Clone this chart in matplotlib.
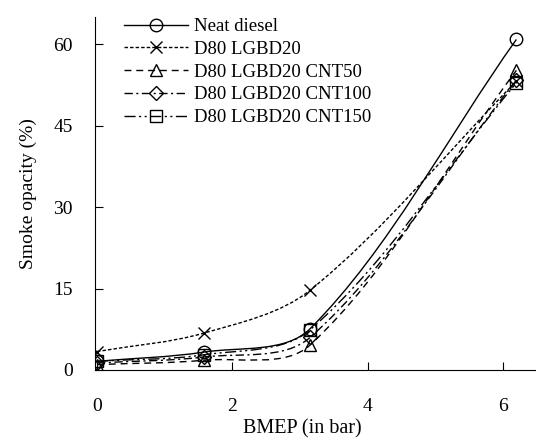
import numpy as np
import matplotlib.pyplot as plt
from matplotlib.path import Path
from matplotlib.patches import PathPatch

plt.rcParams['font.family'] = ['Liberation Serif', 'DejaVu Serif']

# BMEP (bar)
bmep = [0.0, 1.58, 3.15, 6.2]

# smoke opacity (%)
neat_diesel = [1.6, 3.3, 7.6, 60.9]
d80_lgbd20 = [3.4, 6.8, 14.7, 53.2]
cnt50 = [1.0, 1.8, 4.6, 55.2]
cnt100 = [1.3, 2.4, 6.0, 53.4]
cnt150 = [1.6, 2.8, 7.4, 52.9]

series = [
    ("Neat diesel", neat_diesel, 'o', '-'),
    ("D80 LGBD20", d80_lgbd20, 'x', (0, (2.5, 1.5))),
    ("D80 LGBD20 CNT50", cnt50, '^', (0, (5, 3.5))),
    ("D80 LGBD20 CNT100", cnt100, 'D', (0, (6, 2.5, 1.5, 2.5))),
    ("D80 LGBD20 CNT150", cnt150, 's', (0, (8, 2.5, 1.5, 2.5, 1.5, 2.5))),
]

# rough px per data unit, used only to weight the smoothing
SX, SY = 67.7, 5.43


def smooth_path(x, y, t=1/3):
    # smoothed line like the spreadsheet one: bezier segments, tangents weighted by segment length
    pts = np.column_stack([x, y]).astype(float)
    n = len(pts)
    scale = np.array([SX, SY])
    d = [np.hypot(*((pts[i + 1] - pts[i]) * scale)) for i in range(n - 1)]
    out_c, in_c = [], []
    for i in range(n):
        prev = pts[i - 1] if i > 0 else pts[i]
        nxt = pts[i + 1] if i < n - 1 else pts[i]
        tang = nxt - prev
        dl = d[i - 1] if i > 0 else 0.0
        dr = d[i] if i < n - 1 else 0.0
        tot = dl + dr
        out_c.append(pts[i] + tang * t * dr / tot)
        in_c.append(pts[i] - tang * t * dl / tot)
    verts = [pts[0]]
    codes = [Path.MOVETO]
    for i in range(n - 1):
        verts += [out_c[i], in_c[i + 1], pts[i + 1]]
        codes += [Path.CURVE4] * 3
    return Path(verts, codes)


fig = plt.figure(figsize=(5.36, 4.41), dpi=100)
ax = fig.add_axes([0.1772, 0.161, 0.8228, 0.800])

handles = []
for name, vals, mk, ls in series:
    ms = 7 if mk == 'D' else 9
    patch = PathPatch(smooth_path(bmep, vals), facecolor='none', edgecolor='black',
                      linewidth=1.0, linestyle=ls)
    ax.add_patch(patch)
    ax.plot(bmep, vals, linestyle='none', marker=mk, markersize=ms,
            markerfacecolor='none', markeredgecolor='black', markeredgewidth=1.0)
    h, = ax.plot([], [], color='black', linewidth=1.0, linestyle=ls, marker=mk,
                 markersize=ms, markerfacecolor='none', label=name)
    handles.append(h)

ax.set_xlim(-0.03, 6.49)
ax.set_ylim(0, 65)
ax.set_xticks([0, 2, 4, 6])
ax.set_yticks([0, 15, 30, 45, 60])
ax.spines['top'].set_visible(False)
ax.spines['right'].set_visible(False)
ax.tick_params(axis='x', direction='in', length=6, pad=20, labelsize=14)
ax.tick_params(axis='y', direction='in', length=6, pad=16, labelsize=14)
ax.set_xlabel("BMEP (in bar)", fontsize=14.5)
ax.xaxis.set_label_coords(0.47, -0.139)
ax.set_ylabel("Smoke opacity (%)", fontsize=14, labelpad=12)

ax.legend(handles=handles, loc='upper left', bbox_to_anchor=(124 / 536, 1 - 18 / 441),
          bbox_transform=fig.transFigure, frameon=False, fontsize=13.5,
          handlelength=3.4, labelspacing=0.3, handletextpad=0.35,
          borderpad=0, borderaxespad=0)

fig.savefig("out.png", dpi=100)
